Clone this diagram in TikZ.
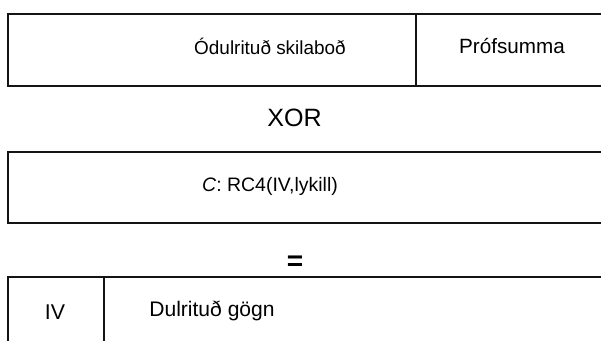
\documentclass[tikz,border=0pt]{standalone}
\usepackage{fontspec}
\setmainfont{Liberation Sans}
\begin{document}
\begin{tikzpicture}[x=0.75pt,y=-0.75pt,
  field/.style={draw=black!92, line width=1.5pt},
  lbl/.style={inner sep=0pt},
  op/.style={inner sep=0pt}]
\clip (0,0) rectangle (601,341);
\fill[white] (0,0) rectangle (601,341);
% plaintext with checksum
\draw[field] (8,13.7) rectangle (620,86);
\draw[field] (416,13.7) -- (416,86);
\node[lbl, font=\fontsize{14.2}{17}\selectfont] (plain) at (270,46.5) {Ódulrituð skilaboð};
\node[lbl, font=\fontsize{15.5}{18}\selectfont] (icv) at (512,45.5) {Prófsumma};
% operator
\node[op, font=\fontsize{18.8}{22}\selectfont] (xor) at (294.5,118) {XOR};
% keystream
\draw[field] (8,152) rectangle (620,223);
\node[lbl, font=\fontsize{14.6}{17}\selectfont] (ks) at (270,186) {\textit{C}: RC4(IV,lykill)};
% result
\node[op, font=\fontsize{21}{24}\selectfont\bfseries] (eq) at (295,263) {=};
\draw[field] (8,277) rectangle (620,360);
\draw[field] (104,277) -- (104,360);
\node[lbl, font=\fontsize{16}{19}\selectfont] (iv) at (55,312) {IV};
\node[lbl, font=\fontsize{15.8}{19}\selectfont] (ct) at (212,311) {Dulrituð gögn};
\end{tikzpicture}
\end{document}
